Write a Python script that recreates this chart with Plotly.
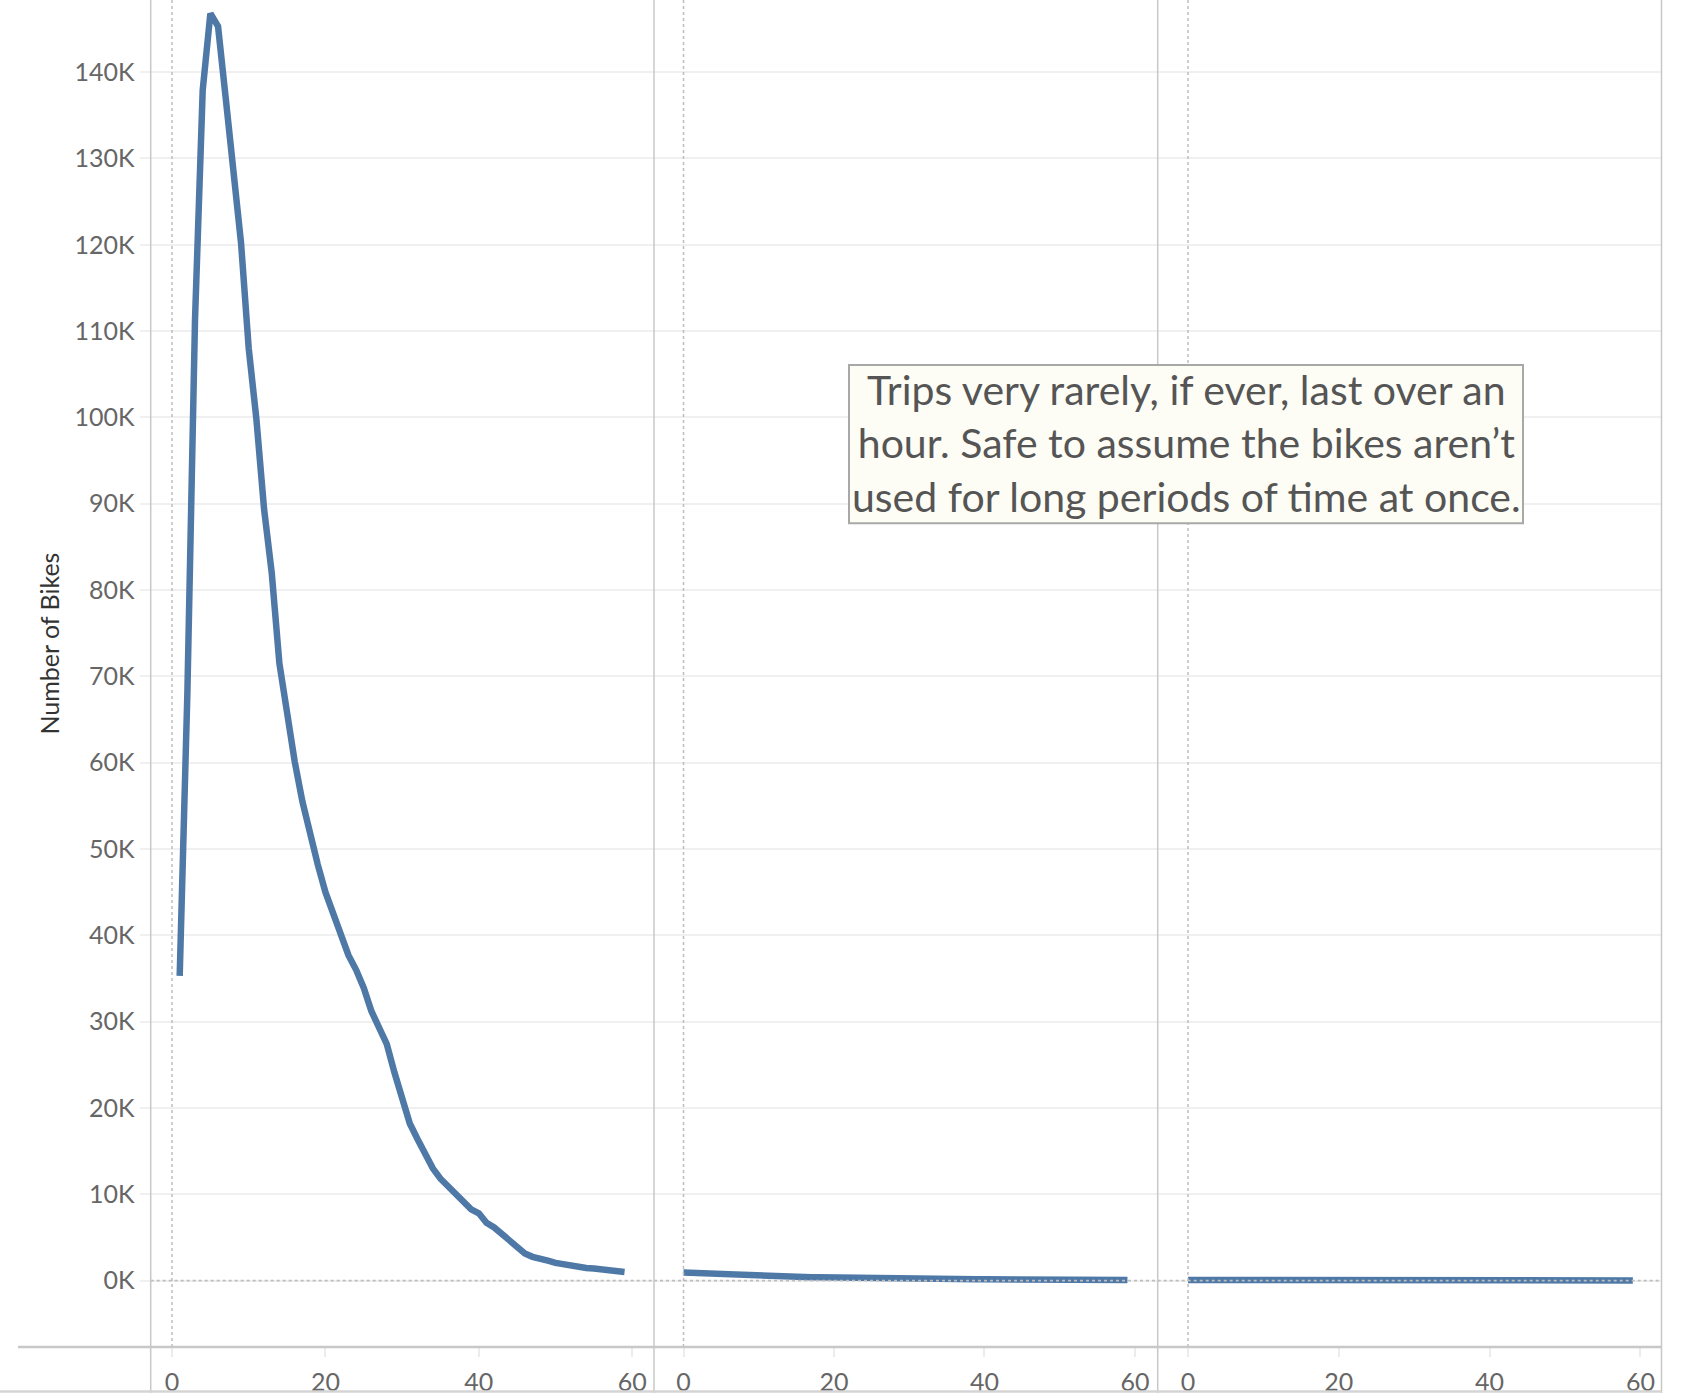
"""Trip duration (minutes) split into hour panes: number of bikes per minute."""

import plotly.graph_objects as go

W, H = 1682, 1396

LINE = "#4e79a7"
INK = "#333333"
TICK_INK = "#666666"
GRID = "#f0f0f0"
FRAME = "#c8c8c8"
ZERO = "#bdbdbd"
FONT = "Lato, 'Open Sans', sans-serif"

# hour 0: minutes 1..59
hour0_minutes = list(range(1, 60))
hour0_bikes = [
    35300, 68000, 111400, 137900, 146800, 145300, 137000, 129300, 120200, 108000,
    99800, 89400, 82000, 71500, 65400, 60100, 55500, 51600, 48200, 45000,
    42600, 40500, 37700, 36000, 33900, 31200, 29300, 27400, 24100, 21000,
    18200, 16400, 14700, 13000, 11800, 10900, 10000, 9050, 8250, 7800,
    6700, 6150, 5450, 4650, 3850, 3150, 2750, 2450, 2300, 2050,
    1900, 1700, 1500, 1450, 1400, 1300, 1200, 1100, 1000,
]

# hour 1: minutes 0..59
hour1_minutes = list(range(0, 60))
hour1_bikes = [
    920, 880, 850, 810, 770, 730, 680, 620, 560, 540,
    520, 500, 470, 440, 430, 410, 400, 380, 370, 350,
    340, 320, 310, 300, 290, 280, 260, 250, 240, 240,
    230, 220, 210, 190, 180, 170, 170, 160, 150, 140,
    140, 130, 120, 100, 100, 100, 90, 90, 80, 80,
    80, 70, 70, 70, 60, 60, 60, 50, 50, 50,
]

# hour 2: minutes 0..59
hour2_minutes = list(range(0, 60))
hour2_bikes = [
    60, 58, 56, 55, 54, 52, 51, 50, 49, 48,
    47, 46, 45, 44, 43, 42, 42, 41, 40, 40,
    39, 38, 38, 37, 36, 36, 35, 35, 34, 34,
    33, 33, 32, 32, 31, 31, 30, 30, 29, 29,
    28, 28, 27, 27, 26, 26, 25, 25, 25, 24,
    24, 24, 23, 23, 22, 22, 22, 21, 21, 20,
]

y_ticks = list(range(0, 150000, 10000))
y_labels = [f"{v // 1000}K" for v in y_ticks]
x_ticks = [0, 20, 40, 60]


def px(x):
    return x / W


def py(y):
    return 1 - y / H


# pane edges in pixels
LEFT, SEP1, SEP2, RIGHT = 150.7, 654.0, 1157.7, 1661.5
PLOT_BOTTOM = 1350.0

panes = [
    (hour0_minutes, hour0_bikes, (LEFT, SEP1), [-2.78, 62.84]),
    (hour1_minutes, hour1_bikes, (SEP1, SEP2), [-3.92, 63.02]),
    (hour2_minutes, hour2_bikes, (SEP2, RIGHT), [-4.02, 62.8]),
]

fig = go.Figure()
layout_axes = {}
for i, (xs, ys, (a, b), xr) in enumerate(panes, start=1):
    name = "x" if i == 1 else f"x{i}"
    fig.add_trace(
        go.Scatter(
            x=xs, y=ys, mode="lines", xaxis=name, yaxis="y",
            line={"color": LINE, "width": 6.5, "shape": "linear"},
            hovertemplate="%{x} min<br>%{y} bikes<extra></extra>",
        )
    )
    layout_axes["xaxis" if i == 1 else f"xaxis{i}"] = dict(
        domain=[px(a), px(b)],
        range=xr,
        anchor="y",
        tickvals=x_ticks,
        ticks="outside",
        ticklen=9,
        tickwidth=2,
        tickcolor="#ececec",
        tickfont={"size": 25, "color": TICK_INK, "family": FONT},
        ticklabelstandoff=4,
        showgrid=False,
        zeroline=False,
        showline=False,
    )
    # dashed zero lines for this pane
    fig.add_shape(type="line", xref=name, yref="paper", x0=0, x1=0,
                  y0=py(PLOT_BOTTOM), y1=1,
                  line={"color": ZERO, "width": 1.5, "dash": "3px,3px"})
    fig.add_shape(type="line", xref=f"{name} domain", yref="y", x0=0, x1=1,
                  y0=0, y1=0,
                  line={"color": ZERO, "width": 1.8, "dash": "3px,3px"})

fig.update_layout(
    width=W, height=H,
    margin={"l": 0, "r": 0, "t": 0, "b": 0},
    paper_bgcolor="white", plot_bgcolor="white",
    showlegend=False,
    font={"family": FONT, "color": TICK_INK},
    yaxis=dict(
        domain=[py(PLOT_BOTTOM), 1],
        range=[-7710, 148360],
        tickvals=y_ticks,
        ticktext=y_labels,
        ticks="outside",
        ticklen=10,
        tickwidth=2,
        tickcolor=GRID,
        tickfont={"size": 25, "color": TICK_INK, "family": FONT},
        ticklabelstandoff=0,
        gridcolor=GRID,
        gridwidth=2,
        zeroline=False,
        showline=False,
        anchor="x",
    ),
    **layout_axes,
)

# frame: pane borders run the full height, separator above the x axis
for xpix in (LEFT, SEP1, SEP2, RIGHT):
    fig.add_shape(type="line", xref="paper", yref="paper",
                  x0=px(xpix), x1=px(xpix), y0=0, y1=1,
                  line={"color": FRAME, "width": 1.5}, layer="above")
fig.add_shape(type="line", xref="paper", yref="paper",
              x0=px(18), x1=px(RIGHT), y0=py(PLOT_BOTTOM), y1=py(PLOT_BOTTOM),
              line={"color": FRAME, "width": 2.5}, layer="above")
fig.add_shape(type="line", xref="paper", yref="paper",
              x0=0, x1=px(RIGHT), y0=py(1394.5), y1=py(1394.5),
              line={"color": "#d4d4d4", "width": 2.5}, layer="above")

fig.add_annotation(
    text="Number of Bikes", xref="paper", yref="paper",
    x=px(49), y=py(645), xanchor="center", yanchor="middle",
    textangle=-90, showarrow=False,
    font={"size": 25, "color": INK, "family": FONT},
)

# note box
fig.add_shape(type="rect", xref="paper", yref="paper",
              x0=px(849), x1=px(1523), y0=py(524.3), y1=py(365.7),
              fillcolor="#fdfdf5", line={"color": "#a8a8a8", "width": 2},
              layer="above")
fig.add_annotation(
    text="Trips very rarely, if ever, last over an<br>"
         "hour. Safe to assume the bikes aren\u2019t<br>"
         "used for long periods of time at once.",
    xref="paper", yref="paper", x=px(1186), y=py(444),
    xanchor="center", yanchor="middle",
    showarrow=False, align="center",
    font={"size": 41, "color": "#555555", "family": FONT},
)

fig.write_html(
    "out.html",
    config={"displayModeBar": False},
    post_script="document.body.style.margin = '0px';",
)
